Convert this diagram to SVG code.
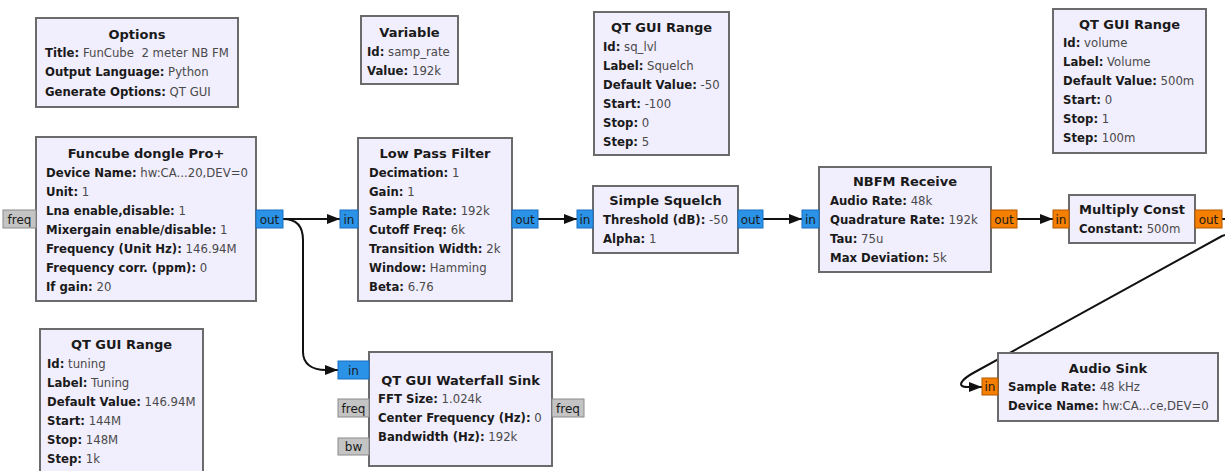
<svg xmlns="http://www.w3.org/2000/svg" width="1225" height="471" viewBox="0 0 1225 471">
<style>
.blk{fill:#F1EEFD;stroke:#6b6b6b;stroke-width:2}
.t{font-family:"DejaVu Sans",sans-serif;font-weight:bold;font-size:13px;text-anchor:middle;fill:#1a1a1a}
.p{font-family:"DejaVu Sans",sans-serif;font-size:11.7px;fill:#4a4a4a}
.k{font-weight:bold;fill:#1a1a1a}
.pc{fill:#2a93e8;stroke:#1a6fc0;stroke-width:1}
.pf{fill:#f57f00;stroke:#b05800;stroke-width:1}
.pm{fill:#c4c4c4;stroke:#8a8a8a;stroke-width:1}
.pt{font-family:"DejaVu Sans",sans-serif;font-size:12px;text-anchor:middle;fill:#1a1a1a}
.c{fill:none;stroke:#111;stroke-width:2;marker-end:url(#ah)}
</style>
<defs>
<marker id="ah" markerUnits="userSpaceOnUse" markerWidth="13" markerHeight="10" refX="13" refY="5" orient="auto">
<path d="M0,0 L13,5 L0,10 z" fill="#111"/>
</marker>
</defs>
<rect width="1225" height="471" fill="#ffffff"/>

<g id="connectors">
<path class="c" d="M283,219 L340,219"/>
<path class="c" d="M283,219 C296,219 303,226 303,240 L303,352 C303,364 312,370 326,370 L338,370"/>
<path class="c" d="M538,219 L577,219"/>
<path class="c" d="M763,219 L802,219"/>
<path class="c" d="M1017,219 L1053,219"/>
<path class="c" d="M1222,219 C1240,219 1242,230 1222,236 L975,372 C962,379 955,387 968,387 L982,387"/>
</g>

<g id="options">
<rect class="blk" x="36" y="18" width="202" height="89"/>
<text class="t" x="137" y="39">Options</text>
<text class="p" x="45" y="57" xml:space="preserve"><tspan class="k">Title:</tspan> FunCube  2 meter NB FM</text>
<text class="p" x="45" y="76"><tspan class="k">Output Language:</tspan> Python</text>
<text class="p" x="45" y="96"><tspan class="k">Generate Options:</tspan> QT GUI</text>
</g>

<g id="variable">
<rect class="blk" x="361" y="16" width="97" height="68"/>
<text class="t" x="409.5" y="37">Variable</text>
<text class="p" x="367" y="56"><tspan class="k">Id:</tspan> samp_rate</text>
<text class="p" x="367" y="75"><tspan class="k">Value:</tspan> 192k</text>
</g>

<g id="range_sq">
<rect class="blk" x="594" y="12" width="135" height="143"/>
<text class="t" x="661.5" y="31.5">QT GUI Range</text>
<text class="p" x="603" y="51"><tspan class="k">Id:</tspan> sq_lvl</text>
<text class="p" x="603" y="70"><tspan class="k">Label:</tspan> Squelch</text>
<text class="p" x="603" y="89"><tspan class="k">Default Value:</tspan> -50</text>
<text class="p" x="603" y="108"><tspan class="k">Start:</tspan> -100</text>
<text class="p" x="603" y="127"><tspan class="k">Stop:</tspan> 0</text>
<text class="p" x="603" y="146"><tspan class="k">Step:</tspan> 5</text>
</g>

<g id="range_volume">
<rect class="blk" x="1053" y="9" width="153" height="144"/>
<text class="t" x="1129.5" y="28.5">QT GUI Range</text>
<text class="p" x="1063" y="47"><tspan class="k">Id:</tspan> volume</text>
<text class="p" x="1063" y="66"><tspan class="k">Label:</tspan> Volume</text>
<text class="p" x="1063" y="85"><tspan class="k">Default Value:</tspan> 500m</text>
<text class="p" x="1063" y="104"><tspan class="k">Start:</tspan> 0</text>
<text class="p" x="1063" y="123"><tspan class="k">Stop:</tspan> 1</text>
<text class="p" x="1063" y="142"><tspan class="k">Step:</tspan> 100m</text>
</g>

<g id="funcube">
<rect class="blk" x="36" y="137" width="220" height="164"/>
<text class="t" x="146" y="157.5">Funcube dongle Pro+</text>
<text class="p" x="46" y="176.5"><tspan class="k">Device Name:</tspan> hw:CA...20,DEV=0</text>
<text class="p" x="46" y="195.5"><tspan class="k">Unit:</tspan> 1</text>
<text class="p" x="46" y="214.5"><tspan class="k">Lna enable,disable:</tspan> 1</text>
<text class="p" x="46" y="233.5"><tspan class="k">Mixergain enable/disable:</tspan> 1</text>
<text class="p" x="46" y="252.5"><tspan class="k">Frequency (Unit Hz):</tspan> 146.94M</text>
<text class="p" x="46" y="271.5"><tspan class="k">Frequency corr. (ppm):</tspan> 0</text>
<text class="p" x="46" y="290.5"><tspan class="k">If gain:</tspan> 20</text>
<rect class="pm" x="3" y="210" width="33" height="18"/>
<text class="pt" x="19.5" y="223.5">freq</text>
<rect class="pc" x="256" y="210" width="27" height="18"/>
<text class="pt" x="269.5" y="223.5">out</text>
</g>

<g id="lpf">
<rect class="blk" x="358" y="138" width="154" height="163"/>
<text class="t" x="435" y="157.5">Low Pass Filter</text>
<text class="p" x="369" y="176.5"><tspan class="k">Decimation:</tspan> 1</text>
<text class="p" x="369" y="195.5"><tspan class="k">Gain:</tspan> 1</text>
<text class="p" x="369" y="214.5"><tspan class="k">Sample Rate:</tspan> 192k</text>
<text class="p" x="369" y="233.5"><tspan class="k">Cutoff Freq:</tspan> 6k</text>
<text class="p" x="369" y="252.5"><tspan class="k">Transition Width:</tspan> 2k</text>
<text class="p" x="369" y="271.5"><tspan class="k">Window:</tspan> Hamming</text>
<text class="p" x="369" y="290.5"><tspan class="k">Beta:</tspan> 6.76</text>
<rect class="pc" x="340" y="210" width="18" height="18"/>
<text class="pt" x="349" y="223.5">in</text>
<rect class="pc" x="512" y="210" width="26" height="18"/>
<text class="pt" x="525" y="223.5">out</text>
</g>

<g id="squelch">
<rect class="blk" x="593" y="186" width="145" height="67"/>
<text class="t" x="665.5" y="204.5">Simple Squelch</text>
<text class="p" x="603" y="224"><tspan class="k">Threshold (dB):</tspan> -50</text>
<text class="p" x="603" y="243"><tspan class="k">Alpha:</tspan> 1</text>
<rect class="pc" x="577" y="210" width="16" height="18"/>
<text class="pt" x="585" y="223.5">in</text>
<rect class="pc" x="738" y="210" width="25" height="18"/>
<text class="pt" x="750.5" y="223.5">out</text>
</g>

<g id="nbfm">
<rect class="blk" x="819" y="167" width="172" height="105"/>
<text class="t" x="905" y="185.5">NBFM Receive</text>
<text class="p" x="830" y="205"><tspan class="k">Audio Rate:</tspan> 48k</text>
<text class="p" x="830" y="224"><tspan class="k">Quadrature Rate:</tspan> 192k</text>
<text class="p" x="830" y="243"><tspan class="k">Tau:</tspan> 75u</text>
<text class="p" x="830" y="262"><tspan class="k">Max Deviation:</tspan> 5k</text>
<rect class="pc" x="802" y="210" width="17" height="18"/>
<text class="pt" x="810.5" y="223.5">in</text>
<rect class="pf" x="991" y="210" width="26" height="18"/>
<text class="pt" x="1004" y="223.5">out</text>
</g>

<g id="multiply">
<rect class="blk" x="1069" y="195" width="126" height="48"/>
<text class="t" x="1132" y="213.5">Multiply Const</text>
<text class="p" x="1079" y="233"><tspan class="k">Constant:</tspan> 500m</text>
<rect class="pf" x="1053" y="210" width="16" height="18"/>
<text class="pt" x="1061" y="223.5">in</text>
<rect class="pf" x="1195" y="210" width="27" height="18"/>
<text class="pt" x="1208.5" y="223.5">out</text>
</g>

<g id="audio_sink">
<rect class="blk" x="998" y="353" width="220" height="68"/>
<text class="t" x="1108" y="372.5">Audio Sink</text>
<text class="p" x="1008" y="391"><tspan class="k">Sample Rate:</tspan> 48 kHz</text>
<text class="p" x="1008" y="410"><tspan class="k">Device Name:</tspan> hw:CA...ce,DEV=0</text>
<rect class="pf" x="982" y="378" width="16" height="17"/>
<text class="pt" x="990" y="391">in</text>
</g>

<g id="range_tuning">
<rect class="blk" x="40" y="329" width="163" height="152"/>
<text class="t" x="121.5" y="348.5">QT GUI Range</text>
<text class="p" x="47" y="368"><tspan class="k">Id:</tspan> tuning</text>
<text class="p" x="47" y="387"><tspan class="k">Label:</tspan> Tuning</text>
<text class="p" x="47" y="406"><tspan class="k">Default Value:</tspan> 146.94M</text>
<text class="p" x="47" y="425"><tspan class="k">Start:</tspan> 144M</text>
<text class="p" x="47" y="444"><tspan class="k">Stop:</tspan> 148M</text>
<text class="p" x="47" y="463"><tspan class="k">Step:</tspan> 1k</text>
</g>

<g id="waterfall">
<rect class="blk" x="369" y="352" width="183" height="114"/>
<text class="t" x="460.5" y="384.5">QT GUI Waterfall Sink</text>
<text class="p" x="378" y="403"><tspan class="k">FFT Size:</tspan> 1.024k</text>
<text class="p" x="378" y="422"><tspan class="k">Center Frequency (Hz):</tspan> 0</text>
<text class="p" x="378" y="441"><tspan class="k">Bandwidth (Hz):</tspan> 192k</text>
<rect class="pc" x="338" y="361" width="31" height="18"/>
<text class="pt" x="353.5" y="374.5">in</text>
<rect class="pm" x="338" y="399" width="31" height="18"/>
<text class="pt" x="353.5" y="412.5">freq</text>
<rect class="pm" x="338" y="438" width="31" height="17"/>
<text class="pt" x="353.5" y="451">bw</text>
<rect class="pm" x="552" y="399" width="32" height="18"/>
<text class="pt" x="568" y="412.5">freq</text>
</g>
</svg>
